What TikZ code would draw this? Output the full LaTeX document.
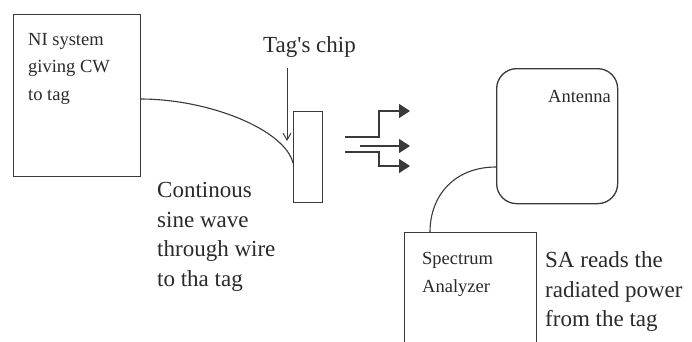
\documentclass[tikz,border=0pt]{standalone}
\usepackage{fontspec}
\setmainfont{Liberation Serif}
\usetikzlibrary{arrows.meta}
\definecolor{linec}{HTML}{3A3A3A}
\definecolor{txt}{HTML}{2A2A2A}
\begin{document}
\begin{tikzpicture}[x=1pt,y=-1pt,
  box/.style={draw=linec, line width=1.3pt, inner sep=0pt, anchor=north west},
  wire/.style={draw=linec, line width=1.1pt},
  small/.style={font=\fontsize{18.5}{27.5}\selectfont, align=left, anchor=north west, inner sep=0pt, text=txt},
  big/.style={font=\fontsize{23}{29.5}\selectfont, align=left, anchor=north west, inner sep=0pt, text=txt},
  ray/.style={draw=linec, line width=1.3pt, -{Triangle[length=11pt,width=14pt]}},
  pointer/.style={draw=linec, line width=1pt, -{Straight Barb[length=7pt,width=8pt]}}
]
\clip (0,0) rectangle (692,341);
\fill[white] (0,0) rectangle (692,341);
% boxes
\node[box, minimum width=127pt, minimum height=162pt] (ni) at (13,14) {};
\node[box, minimum width=29pt, minimum height=91pt] (chip) at (293,111) {};
\node[box, rounded corners=20pt, minimum width=121pt, minimum height=135pt] (ant) at (496,68) {};
\node[box, minimum width=132pt, minimum height=130pt] (sa) at (404,232) {};
% texts
\node[small] (nitext) at (28,33) {NI system\\giving CW\\to tag};
\node[small, anchor=base west] (anttext) at (548,102) {Antenna};
\node[small] (satext) at (422,252.5) {Spectrum\\Analyzer};
\node[big, anchor=base west] (chiplabel) at (263,52) {Tag\textquotesingle s chip};
\node[big] (cwtext) at (157,182.5) {Continous\\sine wave\\through wire\\to tha tag};
\node[big] (readtext) at (545,251.5) {SA reads the\\radiated power\\from the tag};
% connectors
\coordinate (niout) at (140,99);
\coordinate (chipin) at (293,163);
\draw[wire] (niout) .. controls (210,99) and (285,130) .. (chipin);
\coordinate (antout) at (496,167);
\coordinate (sain) at (430,232);
\draw[wire] (antout) .. controls (455,167) and (430,195) .. (sain);
\coordinate (ptop) at (287,68);
\coordinate (ptip) at (287,141);
\draw[pointer] (ptop) -- (ptip);
% radiation arrows
\coordinate (r1s) at (345,137);
\coordinate (r1e) at (410,111);
\coordinate (r2s) at (360,146);
\coordinate (r2e) at (410,146);
\coordinate (r3s) at (345,152);
\coordinate (r3e) at (410,166);
\draw[ray] (r1s) -- (379,137) -- (379,111) -- (r1e);
\draw[ray] (r2s) -- (r2e);
\draw[ray] (r3s) -- (379,152) -- (379,166) -- (r3e);
\end{tikzpicture}
\end{document}
